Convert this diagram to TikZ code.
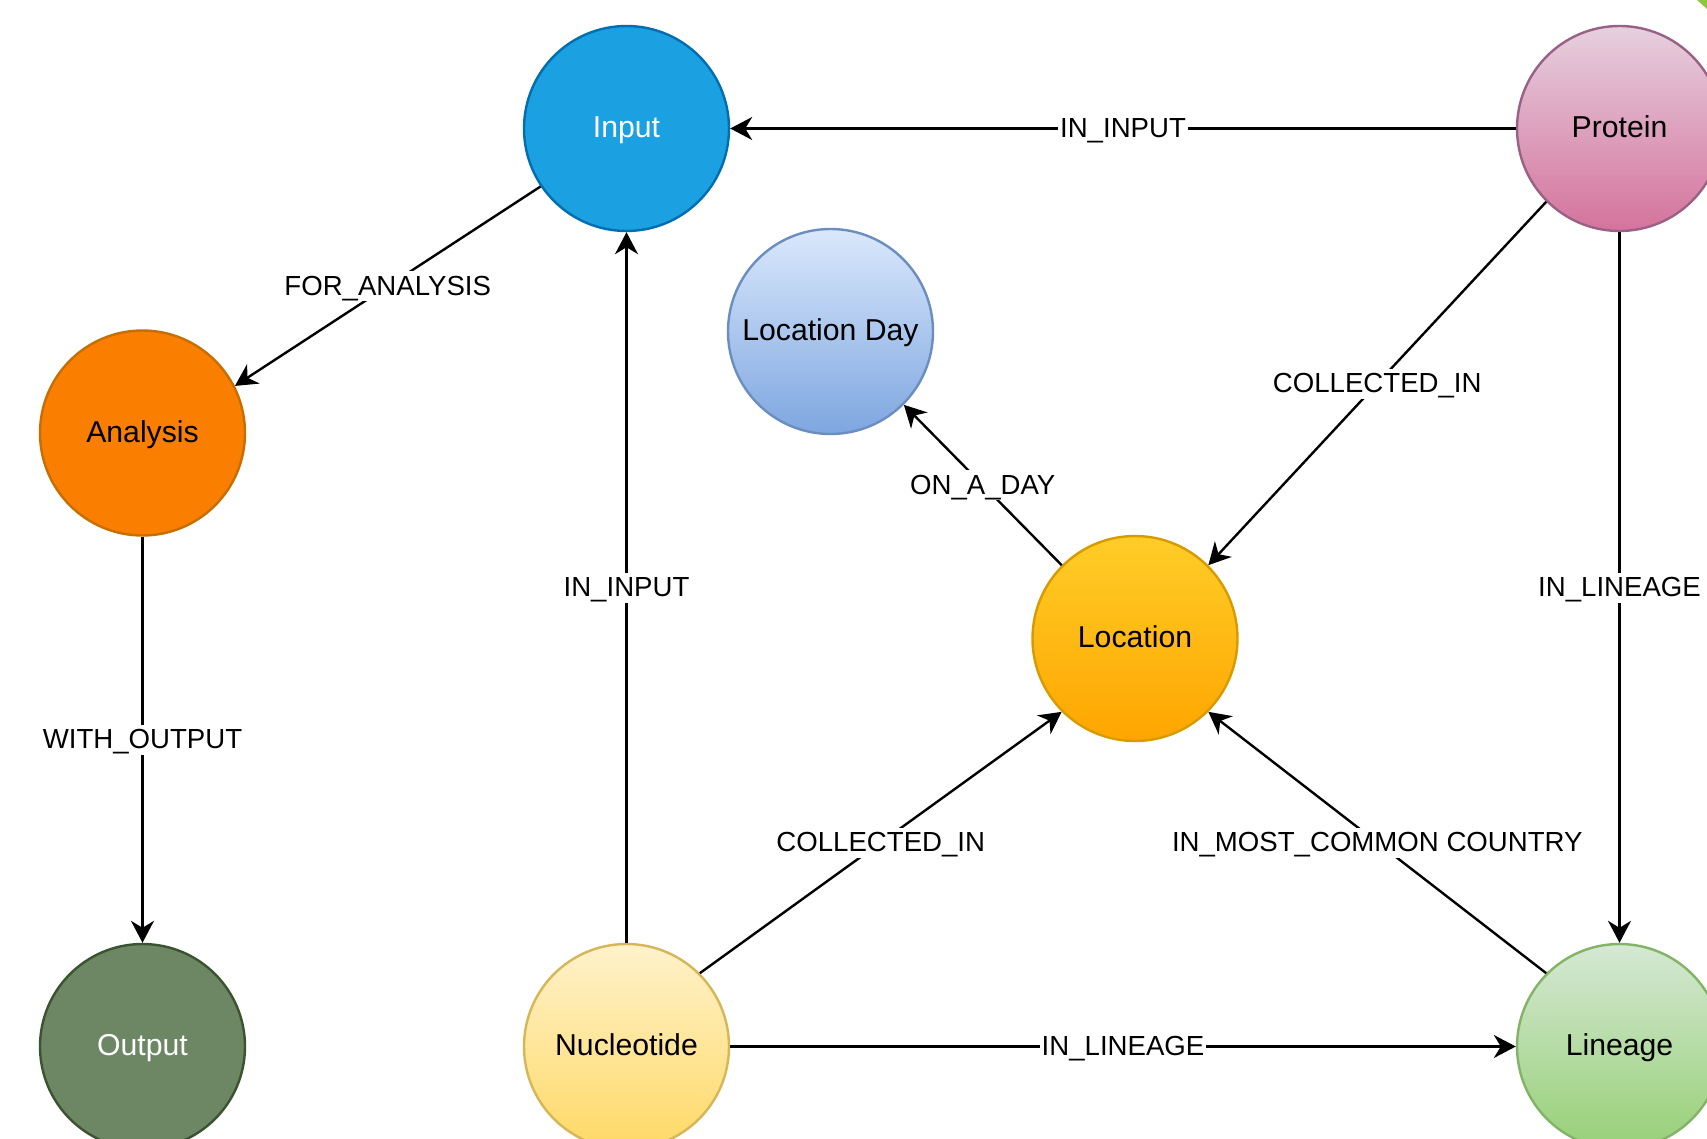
\documentclass[tikz,border=0pt]{standalone}
\usepackage{fontspec}
\setmainfont{Liberation Sans}
\usetikzlibrary{arrows.meta}

\begin{document}
\begin{tikzpicture}[x=0.5pt,y=-0.5pt,
  entity/.style={circle, minimum size=102.5pt, inner sep=0pt, line width=1.2pt,
    font=\fontsize{15.1}{18}\selectfont, text height=1.06em, text depth=0.15em},
  rel/.style={line width=1.2pt, -{Stealth[length=11pt,width=11.5pt,inset=3.5pt]}},
  lbl/.style={fill=white, inner sep=1pt, font=\fontsize{13.8}{16}\selectfont, text=black,
    text height=1.1em, text depth=0.2em}
]
\definecolor{inputfill}{HTML}{1BA1E2}\definecolor{inputline}{HTML}{006EAF}
\definecolor{protA}{HTML}{E6D0DE}\definecolor{protB}{HTML}{D5739D}\definecolor{protline}{HTML}{996185}
\definecolor{ldA}{HTML}{DAE8FC}\definecolor{ldB}{HTML}{7EA6E0}\definecolor{ldline}{HTML}{6C8EBF}
\definecolor{anfill}{HTML}{FA7F00}\definecolor{anline}{HTML}{C76E00}
\definecolor{locA}{HTML}{FFCD28}\definecolor{locB}{HTML}{FFA500}\definecolor{locline}{HTML}{D79B00}
\definecolor{outfill}{HTML}{6D8764}\definecolor{outline}{HTML}{3A5431}
\definecolor{nucA}{HTML}{FFF2CC}\definecolor{nucB}{HTML}{FFD966}\definecolor{nucline}{HTML}{D6B656}
\definecolor{linA}{HTML}{D5E8D4}\definecolor{linB}{HTML}{97D077}\definecolor{linline}{HTML}{82B366}
\definecolor{cornergreen}{HTML}{8DC63F}

\useasboundingbox (0,0) rectangle (1707,1139);
\fill[white] (0,0) rectangle (1707,1139);
\fill[cornergreen] (1697,0) -- (1707,0) -- (1707,9) -- cycle;

% entities
\node[entity, fill=inputfill, draw=inputline, text=white] (in) at (626.5,128.5) {Input};
\node[entity, top color=protA, bottom color=protB, draw=protline] (pr) at (1619.5,128.5) {Protein};
\node[entity, top color=ldA, bottom color=ldB, draw=ldline] (ld) at (830.5,331.5) {Location Day};
\node[entity, fill=anfill, draw=anline] (an) at (142.5,433) {Analysis};
\node[entity, top color=locA, bottom color=locB, draw=locline] (lo) at (1135,638.5) {Location};
\node[entity, fill=outfill, draw=outline, text=white] (out) at (142.5,1046.5) {Output};
\node[entity, top color=nucA, bottom color=nucB, draw=nucline] (nu) at (626.5,1046.5) {Nucleotide};
\node[entity, top color=linA, bottom color=linB, draw=linline] (li) at (1619.5,1046.5) {Lineage};

% relationships
\draw[rel] (pr) -- node[lbl] {IN\_INPUT} (in);
\draw[rel] (in.214.5) -- node[lbl] {FOR\_ANALYSIS} (an.27.6);
\draw[rel] (an) -- node[lbl] {WITH\_OUTPUT} (out);
\draw[rel] (nu) -- node[lbl] {IN\_INPUT} (in);
\draw[rel] (nu.45) -- node[lbl] {COLLECTED\_IN} (lo.225);
\draw[rel] (nu) -- node[lbl] {IN\_LINEAGE} (li);
\draw[rel] (lo.135) -- node[lbl] {ON\_A\_DAY} (ld.315);
\draw[rel] (pr.225) -- node[lbl] {COLLECTED\_IN} (lo.45);
\draw[rel] (pr) -- node[lbl] {IN\_LINEAGE} (li);
\draw[rel] (li.135) -- node[lbl] {IN\_MOST\_COMMON COUNTRY} (lo.315);
\end{tikzpicture}
\end{document}
